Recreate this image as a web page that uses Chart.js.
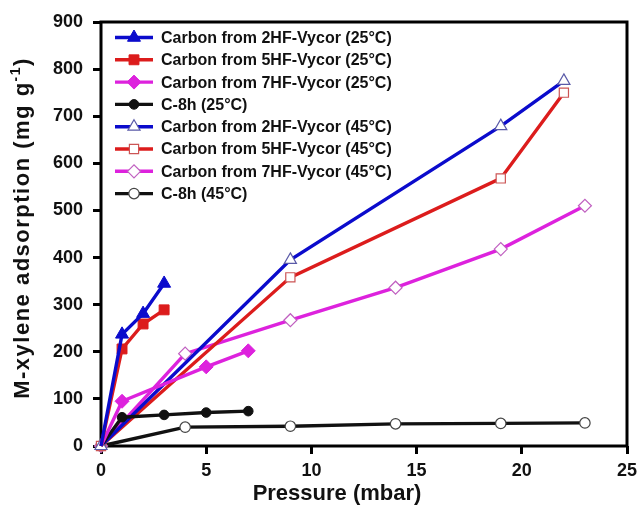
<!DOCTYPE html>
<html>
<head>
<meta charset="utf-8">
<script src="https://cdn.jsdelivr.net/npm/chart.js@4.4.1/dist/chart.umd.min.js"></script>
<style>
  html, body { margin: 0; padding: 0; background: #fff; }
  #wrap { width: 638px; height: 509px; position: relative; }
</style>
</head>
<body>
<div id="wrap"><canvas id="c" width="638" height="509"></canvas></div>
<script>
// ---- data (pressure in mbar, adsorption in mg/g) ----
const seriesLabels = [
  "Carbon from 2HF-Vycor (25°C)",
  "Carbon from 5HF-Vycor (25°C)",
  "Carbon from 7HF-Vycor (25°C)",
  "C-8h (25°C)",
  "Carbon from 2HF-Vycor (45°C)",
  "Carbon from 5HF-Vycor (45°C)",
  "Carbon from 7HF-Vycor (45°C)",
  "C-8h (45°C)"
];
const hf2_25_p = [0, 1, 2, 3];
const hf2_25   = [0, 237, 281, 345];
const hf5_25_p = [0, 1, 2, 3];
const hf5_25   = [0, 206, 259, 289];
const hf7_25_p = [0, 1, 5, 7];
const hf7_25   = [0, 95, 168, 202];
const c8h_25_p = [0, 1, 3, 5, 7];
const c8h_25   = [0, 61, 66, 71, 74];
const hf2_45_p = [0, 9, 19, 22];
const hf2_45   = [0, 395, 679, 775];
const hf5_45_p = [0, 9, 19, 22];
const hf5_45   = [0, 358, 568, 750];
const hf7_45_p = [0, 4, 9, 14, 19, 23];
const hf7_45   = [0, 196, 267, 336, 418, 510];
const c8h_45_p = [0, 4, 9, 14, 19, 23];
const c8h_45   = [0, 40, 42, 47, 48, 49];
const xTicks = [0, 5, 10, 15, 20, 25];
const yTicks = [0, 100, 200, 300, 400, 500, 600, 700, 800, 900];
const xTitle = "Pressure (mbar)";
const yTitleMain = "M-xylene adsorption (mg g";
const yTitleSup = "-1";
const yTitleEnd = ")";

const xs = [hf2_25_p, hf5_25_p, hf7_25_p, c8h_25_p, hf2_45_p, hf5_45_p, hf7_45_p, c8h_45_p];
const ys = [hf2_25, hf5_25, hf7_25, c8h_25, hf2_45, hf5_45, hf7_45, c8h_45];

// ---- styles ----
const BLUE = '#0b0bcc', RED = '#dc1c1c', MAG = '#dd22dd', BLK = '#111111';
const styles = [
  {c: BLUE, ps: 'triangle', r: 7.5, fill: BLUE, pb: BLUE, bw: 1, filled: true},
  {c: RED,  ps: 'rect',     r: 7,   fill: RED,  pb: RED,  bw: 1, filled: true},
  {c: MAG,  ps: 'rectRot',  r: 7,   fill: MAG,  pb: MAG,  bw: 1, filled: true},
  {c: BLK,  ps: 'circle',   r: 4.8, fill: BLK,  pb: BLK,  bw: 1, filled: true},
  {c: BLUE, ps: 'triangle', r: 7,   fill: '#fff', pb: '#5a5aa8', bw: 1.2, filled: false},
  {c: RED,  ps: 'rect',     r: 6.5, fill: '#fff', pb: '#cc5555', bw: 1.2, filled: false},
  {c: MAG,  ps: 'rectRot',  r: 6.5, fill: '#fff', pb: '#c060c0', bw: 1.2, filled: false},
  {c: BLK,  ps: 'circle',   r: 5.2, fill: '#fff', pb: '#444444', bw: 1.2, filled: false}
];

const datasets = seriesLabels.map((lab, i) => {
  const s = styles[i];
  return {
    label: lab,
    data: xs[i].map((x, j) => ({x: x, y: ys[i][j]})),
    showLine: true,
    borderColor: s.c,
    borderWidth: 3.4,
    backgroundColor: s.fill,
    pointStyle: s.ps,
    pointRadius: (ctx) => (s.filled && ctx.dataIndex === 0) ? 0 : s.r,
    pointBackgroundColor: s.fill,
    pointBorderColor: s.pb,
    pointBorderWidth: s.bw,
    pointHoverRadius: s.r,
    clip: false,
    order: i
  };
});

const FONT = "'Liberation Sans', Arial, sans-serif";

const framePlugin = {
  id: 'frame',
  beforeDatasetsDraw(chart) {
    const {ctx, chartArea: a} = chart;
    ctx.save();
    ctx.strokeStyle = '#000';
    ctx.lineWidth = 3;
    ctx.strokeRect(a.left, a.top, a.right - a.left, a.bottom - a.top);
    ctx.restore();
  }
};

const legendPlugin = {
  id: 'customLegend',
  afterDraw(chart) {
    const ctx = chart.ctx;
    ctx.save();
    chart.data.datasets.forEach((ds, i) => {
      const s = styles[i];
      const y = 37.5 + i * 22.3;
      ctx.strokeStyle = s.c;
      ctx.lineWidth = 3.4;
      ctx.beginPath();
      ctx.moveTo(115, y);
      ctx.lineTo(153, y);
      ctx.stroke();
      ctx.fillStyle = s.fill;
      ctx.strokeStyle = s.pb;
      ctx.lineWidth = s.bw;
      Chart.helpers.drawPoint(ctx, {pointStyle: s.ps, radius: s.r, borderWidth: s.bw, rotation: 0}, 134, y);
      ctx.fillStyle = '#111';
      ctx.font = "bold 16px " + FONT;
      ctx.textBaseline = 'middle';
      ctx.textAlign = 'left';
      ctx.fillText(ds.label, 161, y + 1);
    });
    ctx.restore();
  }
};

const titlesPlugin = {
  id: 'titles',
  afterDraw(chart) {
    const ctx = chart.ctx;
    ctx.save();
    ctx.fillStyle = '#111';
    // x title
    ctx.font = "bold 22px " + FONT;
    ctx.textAlign = 'center';
    ctx.textBaseline = 'middle';
    ctx.fillText(xTitle, 337, 494);
    // y title with superscript
    const fMain = "bold 22px " + FONT;
    const fSup = "bold 14px " + FONT;
    ctx.letterSpacing = '1.5px';
    ctx.font = fMain;
    const w1 = ctx.measureText(yTitleMain).width;
    const w3 = ctx.measureText(yTitleEnd).width;
    ctx.font = fSup;
    const w2 = ctx.measureText(yTitleSup).width;
    const total = w1 + w2 + w3;
    ctx.translate(23, 228);
    ctx.rotate(-Math.PI / 2);
    ctx.textAlign = 'left';
    let x = -total / 2;
    ctx.font = fMain;
    ctx.fillText(yTitleMain, x, 0);
    x += w1;
    ctx.font = fSup;
    ctx.fillText(yTitleSup, x, -7);
    x += w2;
    ctx.font = fMain;
    ctx.fillText(yTitleEnd, x, 0);
    ctx.restore();
  }
};

new Chart(document.getElementById('c'), {
  type: 'scatter',
  data: { datasets: datasets },
  options: {
    responsive: false,
    animation: false,
    devicePixelRatio: 1,
    layout: { padding: { left: 0, top: 22, right: 11, bottom: 0 } },
    plugins: {
      legend: { display: false },
      tooltip: { enabled: false }
    },
    scales: {
      x: {
        type: 'linear',
        min: 0, max: 25,
        afterFit: (s) => { s.height = 63; s.paddingRight = 0; },
        afterBuildTicks: (s) => { s.ticks = xTicks.map(v => ({value: v})); },
        border: { display: false },
        grid: { drawOnChartArea: false, drawTicks: true, tickLength: 8, lineWidth: 3, color: '#000' },
        ticks: { color: '#111', padding: 6, font: { family: FONT, size: 18, weight: 'bold' }, maxRotation: 0 }
      },
      y: {
        type: 'linear',
        min: 0, max: 900,
        afterFit: (s) => { s.width = 101; },
        afterBuildTicks: (s) => { s.ticks = yTicks.map(v => ({value: v})); },
        border: { display: false },
        grid: { drawOnChartArea: false, drawTicks: true, tickLength: 8, lineWidth: 3, color: '#000' },
        ticks: { color: '#111', padding: 10, font: { family: FONT, size: 18, weight: 'bold' } }
      }
    }
  },
  plugins: [framePlugin, legendPlugin, titlesPlugin]
});
</script>
</body>
</html>
